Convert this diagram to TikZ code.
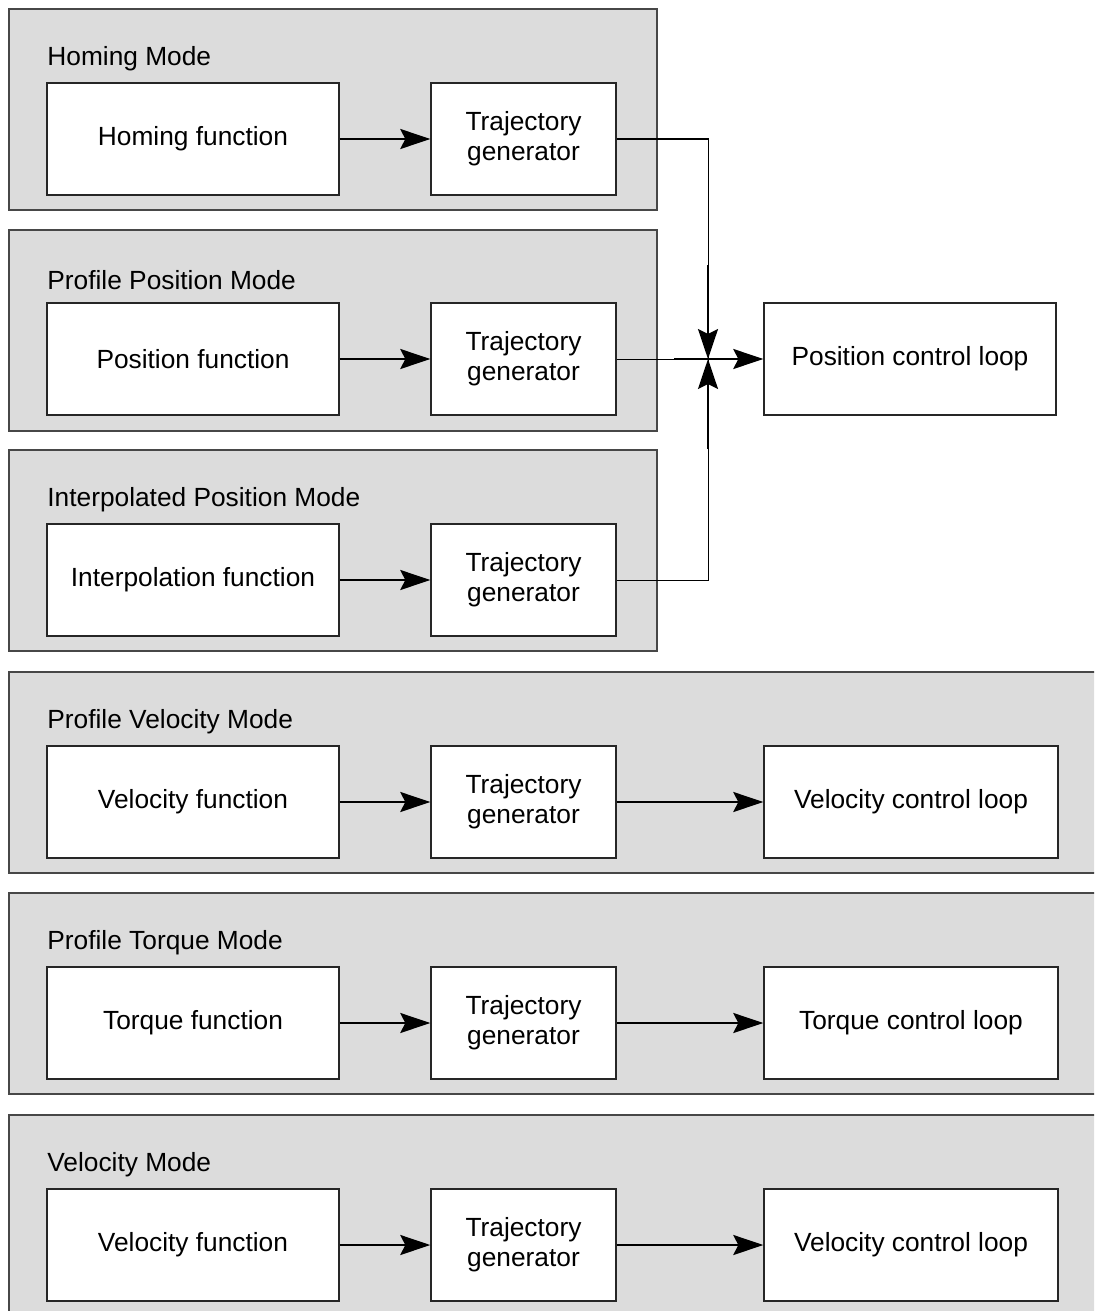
\documentclass[tikz,border=0pt]{standalone}
\usepackage{fontspec}
\setmainfont{Liberation Sans}
\usetikzlibrary{arrows.meta,calc}
\definecolor{modegray}{HTML}{DCDCDC}
\definecolor{modeedge}{HTML}{474747}
\tikzset{
  modebox/.style={draw=modeedge, fill=modegray, line width=1pt, inner sep=0pt},
  blockbox/.style={draw=black!85, fill=white, line width=0.7pt, inner sep=0pt,
    align=center, minimum height=56pt, font=\fontsize{13.15}{15}\selectfont},
  funcbox/.style={blockbox, minimum width=146pt},
  trajbox/.style={blockbox, minimum width=92.5pt},
  loopbox/.style={blockbox, minimum width=147pt},
  modetitle/.style={anchor=west, inner sep=0pt, font=\fontsize{13.15}{15}\selectfont},
  flow/.style={line width=1.1pt, -{Stealth[length=15pt,width=10pt,inset=2.5pt]}},
  feed/.style={line width=0.5pt},
}
\begin{document}
\begin{tikzpicture}[x=0.5pt,y=-0.5pt]
\useasboundingbox (0,0) rectangle (1094,1311);
\clip (0,0) rectangle (1094,1311);

% mode frames
\node[modebox, minimum width=324pt, minimum height=100.5pt] (m1) at (333,109.5) {};
\node[modebox, minimum width=324pt, minimum height=100.5pt] (m2) at (333,330.5) {};
\node[modebox, minimum width=324pt, minimum height=100.5pt] (m3) at (333,550.5) {};
\node[modebox, minimum width=547.5pt, minimum height=100.5pt] (m4) at (556.5,772.5) {};
\node[modebox, minimum width=547.5pt, minimum height=100.5pt] (m5) at (556.5,993.5) {};
\node[modebox, minimum width=547.5pt, minimum height=105pt] (m6) at (556.5,1220) {};

% mode titles
\node[modetitle] (t1) at (47,59) {Homing Mode};
\node[modetitle] (t2) at (47,280) {Profile Position Mode};
\node[modetitle] (t3) at (47,500) {Interpolated Position Mode};
\node[modetitle] (t4) at (47,722) {Profile Velocity Mode};
\node[modetitle] (t5) at (47,943) {Profile Torque Mode};
\node[modetitle] (t6) at (47,1165) {Velocity Mode};

% function blocks
\node[funcbox] (f1) at (193,139) {Homing function};
\node[funcbox] (f2) at (193,359) {Position function};
\node[funcbox] (f3) at (193,580) {Interpolation function};
\node[funcbox] (f4) at (193,802) {Velocity function};
\node[funcbox] (f5) at (193,1023) {Torque function};
\node[funcbox] (f6) at (193,1245) {Velocity function};

% trajectory generators
\node[trajbox] (g1) at (523.5,139) {Trajectory\\generator};
\node[trajbox] (g2) at (523.5,359) {Trajectory\\generator};
\node[trajbox] (g3) at (523.5,580) {Trajectory\\generator};
\node[trajbox] (g4) at (523.5,802) {Trajectory\\generator};
\node[trajbox] (g5) at (523.5,1023) {Trajectory\\generator};
\node[trajbox] (g6) at (523.5,1245) {Trajectory\\generator};

% control loops
\node[blockbox, minimum width=146pt] (c2) at (910,359) {Position control loop};
\node[loopbox] (c4) at (911,802) {Velocity control loop};
\node[loopbox] (c5) at (911,1023) {Torque control loop};
\node[loopbox] (c6) at (911,1245) {Velocity control loop};

% function -> trajectory
\foreach \i in {1,...,6} \draw[flow] (f\i) -- (f\i -| g\i.west);

% position modes merge into the position control loop
\coordinate (j) at (708,359);
\draw[feed] (g1.east) -| (j);
\draw[feed] (g3.east) -| (j);
\draw[feed] (g2.east) -- (j);
\draw[flow] ($(j)+(0,-94)$) -- (j);
\draw[flow] ($(j)+(0,90)$) -- (j);
\draw[flow] ($(j)+(-34,0)$) -- (c2.west);

% trajectory -> control loop
\foreach \i in {4,5,6} \draw[flow] (g\i) -- (g\i -| c\i.west);
\end{tikzpicture}
\end{document}
